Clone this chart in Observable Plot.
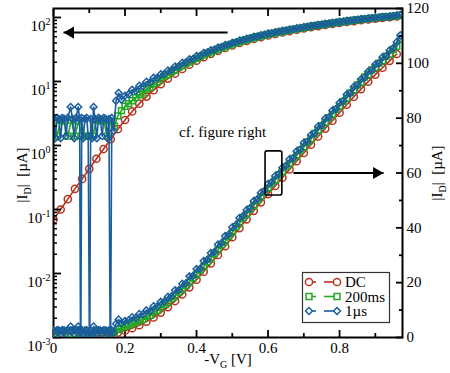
<!DOCTYPE html>
<html><head><meta charset="utf-8">
<script src="https://cdn.jsdelivr.net/npm/d3@7"></script>
<script src="https://cdn.jsdelivr.net/npm/@observablehq/plot@0.6"></script>
<style>
html,body{margin:0;padding:0;background:#fff;}
#wrap{position:relative;width:450px;height:373px;overflow:hidden;}
#wrap svg{position:absolute;left:0;top:0;}
</style></head><body><div id="wrap"></div>
<script>
// ---- data: gate voltage -V_G [V] and drain current |I_D| [µA] ----
const dcV = [0,0.02,0.04,0.06,0.08,0.10,0.12,0.14,0.16,0.18,0.20,0.22,0.24,0.26,0.28,0.30,0.32,0.34,0.36,0.38,0.40,0.42,0.44,0.46,0.48,0.50,0.52,0.54,0.56,0.58,0.60,0.62,0.64,0.66,0.68,0.70,0.72,0.74,0.76,0.78,0.80,0.82,0.84,0.86,0.88,0.90,0.92,0.94,0.96];
const dcI = [0.07,0.10,0.145,0.21,0.30,0.43,0.62,0.88,1.25,1.8,2.5,3.4,4.5,5.8,7.3,9.1,11.1,13.3,15.7,18.3,21.1,24.0,27.0,30.1,33.3,36.6,39.9,43.1,46.2,49.3,52.3,55.3,58.3,61.3,64.3,67.3,70.3,73.3,76.2,79.1,82.0,84.9,87.8,90.6,93.3,95.9,98.4,100.9,103.4];

const msV = [0.00,0.01,0.02,0.03,0.04,0.05,0.06,0.07,0.08,0.09,
             0.10,0.11,0.12,0.13,0.14,0.15,0.16,0.17,0.18,0.19,
             0.20,0.21,0.22,0.23,0.24,0.25,0.26,0.27,0.28,0.29,
             0.30,0.31,0.32,0.33,0.34,0.35,0.36,0.37,0.38,0.39,
             0.40,0.41,0.42,0.43,0.44,0.45,0.46,0.47,0.48,0.49,
             0.50,0.51,0.52,0.53,0.54,0.55,0.56,0.57,0.58,0.59,
             0.60,0.61,0.62,0.63,0.64,0.65,0.66,0.67,0.68,0.69,
             0.70,0.71,0.72,0.73,0.74,0.75,0.76,0.77,0.78,0.79,
             0.80,0.81,0.82,0.83,0.84,0.85,0.86,0.87,0.88,0.89,
             0.90,0.91,0.92,0.93,0.94,0.95,0.96,0.97];
const msI = [2.4,1.4,2.5,2.4,1.4,2.5,1.4,2.4,1.4,1.4,
             1.4,1.4,2.5,2.4,2.5,1.4,2.4,2.0,2.9,3.5,
             4.1,4.5,5.0,5.6,6.2,6.6,7.6,8.1,9.2,9.9,
             11.0,12.1,12.8,14.2,15.1,16.6,17.5,19.0,20.1,21.8,
             23.0,24.6,25.8,27.6,28.8,30.6,31.9,33.8,35.0,37.0,
             38.3,40.4,41.6,43.7,44.9,46.9,48.1,50.0,51.3,53.0,
             54.4,56.2,57.4,59.3,60.4,62.3,63.4,65.3,66.4,68.3,
             69.4,71.3,72.4,74.4,75.5,77.3,78.5,80.2,81.4,83.2,
             84.3,86.1,87.3,89.2,90.3,92.1,93.1,95.0,95.9,97.6,
             98.5,100.1,100.9,102.6,103.3,105.0,106.2,108.8];

const usV = [0.000,0.005,0.010,0.015,0.020,0.025,0.030,0.035,0.040,0.048,
             0.053,0.058,0.063,0.069,0.073,0.076,0.079,0.083,0.088,0.093,
             0.097,0.101,0.104,0.108,0.112,0.116,0.121,0.126,0.131,0.136,
             0.141,0.146,0.151,0.155,0.159,0.163,0.168,0.175,0.182,0.190,
             0.20,0.21,0.22,0.23,0.24,0.25,0.26,0.27,0.28,0.29,
             0.30,0.31,0.32,0.33,0.34,0.35,0.36,0.37,0.38,0.39,
             0.40,0.41,0.42,0.43,0.44,0.45,0.46,0.47,0.48,0.49,
             0.50,0.51,0.52,0.53,0.54,0.55,0.56,0.57,0.58,0.59,
             0.60,0.61,0.62,0.63,0.64,0.65,0.66,0.67,0.68,0.69,
             0.70,0.71,0.72,0.73,0.74,0.75,0.76,0.77,0.78,0.79,
             0.80,0.81,0.82,0.83,0.84,0.85,0.86,0.87,0.88,0.89,
             0.90,0.91,0.92,0.93,0.94,0.95,0.96,0.97];
const usI = [2.6,1.3,2.7,2.6,1.3,2.7,2.6,1.4,2.7,4.0,
             2.6,1.3,2.7,4.0,2.6,0.0002,2.7,1.3,2.6,2.7,
             1.4,0.0002,2.6,1.3,4.0,2.6,1.3,2.7,2.6,1.4,
             2.7,2.6,1.3,2.6,0.0002,2.7,1.7,5.0,6.6,5.2,
             6.0,6.3,7.4,7.1,8.6,8.4,9.9,9.6,11.4,11.3,
             13.0,13.1,14.9,15.0,17.2,17.2,19.6,19.7,22.3,22.4,
             25.0,25.1,27.9,28.4,30.8,31.2,33.9,34.5,37.0,37.6,
             40.2,41.0,43.6,44.3,46.5,47.2,49.8,50.4,52.8,53.5,
             56.0,56.6,58.9,59.6,61.9,62.6,65.0,65.4,67.9,68.6,
             71.0,71.4,73.9,74.5,77.0,77.3,79.9,80.3,82.8,83.3,
             85.6,86.3,88.6,89.1,91.5,92.0,94.2,94.8,97.0,97.4,
             99.6,100.0,102.2,102.6,104.8,105.6,107.8,110.2];

// ---- ticks ----
const xMajor = [0,0.2,0.4,0.6,0.8];
const xMinor = [0.1,0.3,0.5,0.7,0.9];
const logMajor = [1e-3,1e-2,1e-1,1,10,100];
const logMinor = [2e-3,3e-3,4e-3,5e-3,6e-3,7e-3,8e-3,9e-3,2e-2,3e-2,4e-2,5e-2,6e-2,7e-2,8e-2,9e-2,
                  0.2,0.3,0.4,0.5,0.6,0.7,0.8,0.9,2,3,4,5,6,7,8,9,20,30,40,50,60,70,80,90];
const linMajor = [0,20,40,60,80,100,120];
const linMinor = [10,30,50,70,90,110];

// ---- series / annotations ----
const seriesNames = ["DC","200ms","1µs"];
const arrowsLog = [{x1:0.487, x2:0.028, y:58}];
const arrowsLin = [{x1:0.671, x2:0.923, y:60}];
const boxes = [{x1:0.593, x2:0.640, y1:51.8, y2:67.9}];
const notes = [{x:0.473, y:74.8, text:"cf. figure right"}];

const W=450, H=373, mL=53, mR=48, mT=8, mB=36;
const xDom=[0,0.976];
const font="Liberation Serif, 'Times New Roman', serif";
const red="#b7321f", green="#22a822", blue="#1a5d9d";

const dc = dcV.map((v,i)=>({v, i:dcI[i]}));
const ms = msV.map((v,i)=>({v, i:msI[i]}));
const us = usV.map((v,i)=>({v, i:usI[i]}));

const styles = [
  {data:dc, color:red, symbol:"circle", r:3.6},
  {data:ms, color:green, symbol:"square", r:3.3},
  {data:us, color:blue, symbol:"diamond2", r:3.1}
];

function seriesMarks(){
  const m=[];
  for (const s of styles){
    m.push(Plot.line(s.data,{x:"v",y:"i",stroke:s.color,strokeWidth:1.6,clip:true}));
    m.push(Plot.dot(s.data,{x:"v",y:"i",stroke:s.color,symbol:s.symbol,r:s.r,strokeWidth:1.5,fill:"none",clip:true}));
  }
  return m;
}
const common = {width:W,height:H,marginLeft:mL,marginRight:mR,marginTop:mT,marginBottom:mB};

const p1 = Plot.plot({
  ...common,
  style:{fontFamily:font,fontSize:"15px",background:"white",color:"black"},
  x:{domain:xDom},
  y:{type:"log",domain:[1e-3,138]},
  marks:[
    ...seriesMarks(),
    Plot.link(arrowsLog,{x1:"x1",x2:"x2",y1:"y",y2:"y",stroke:"black",strokeWidth:2}),
    Plot.dot(arrowsLog,{x:"x2",y:"y",symbol:"triangle",rotate:-90,r:4.5,fill:"black",stroke:"none",dx:7}),
    Plot.axisX(xMajor,{anchor:"bottom",tickSize:-7,tickPadding:12,strokeWidth:1.8,label:null,tickFormat:d=>d===0?"0":d3.format(".1f")(d)}),
    Plot.axisX(xMinor,{anchor:"bottom",tickSize:-4,tickFormat:()=>"",label:null,strokeWidth:1.8}),
    Plot.axisX(xMajor,{anchor:"top",tickSize:-7,tickFormat:()=>"",label:null,strokeWidth:1.8}),
    Plot.axisX(xMinor,{anchor:"top",tickSize:-4,tickFormat:()=>"",label:null,strokeWidth:1.8}),
    Plot.axisY(logMajor,{anchor:"left",tickSize:-8,tickPadding:11,strokeWidth:1.8,label:null,tickFormat:d=>"10^"+Math.round(Math.log10(d))}),
    Plot.axisY(logMinor,{anchor:"left",tickSize:-4,tickFormat:()=>"",label:null,strokeWidth:1.5}),
    Plot.frame({stroke:"black",strokeWidth:2})
  ]
});

const p2 = Plot.plot({
  ...common,
  style:{fontFamily:font,fontSize:"15px",background:"transparent",color:"black"},
  x:{domain:xDom,axis:null},
  y:{domain:[0,120]},
  marks:[
    ...seriesMarks(),
    Plot.rect(boxes,{x1:"x1",x2:"x2",y1:"y1",y2:"y2",stroke:"black",strokeWidth:1.6,fill:"none",rx:2}),
    Plot.link(arrowsLin,{x1:"x1",x2:"x2",y1:"y",y2:"y",stroke:"black",strokeWidth:2}),
    Plot.dot(arrowsLin,{x:"x2",y:"y",symbol:"triangle",rotate:90,r:4.5,fill:"black",stroke:"none",dx:-7}),
    Plot.text(notes,{x:"x",y:"y",text:"text",fontSize:15}),
    Plot.axisY(linMajor,{anchor:"right",tickSize:-7,tickPadding:11,strokeWidth:1.8,label:null}),
    Plot.axisY(linMinor,{anchor:"right",tickSize:-4,tickFormat:()=>"",label:null,strokeWidth:1.8})
  ]
});

const wrap = document.getElementById("wrap");
wrap.appendChild(p1);
wrap.appendChild(p2);

// superscript exponents on the log axis
d3.select(p1).selectAll('g[aria-label="y-axis tick label"] text').each(function(){
  const t=this.textContent;
  if (!t || t.indexOf("^")<0) return;
  const e=t.split("^")[1];
  const s=d3.select(this); s.text("10").attr("dy","0.55em");
  s.append("tspan").attr("dy","-0.55em").attr("font-size",10).text(e);
});

// axis titles
const ov = d3.select(p2).append("g").attr("font-family",font).attr("font-size",15).attr("fill","black");
function ylabel(x,y){
  const t=ov.append("text").attr("transform",`translate(${x},${y}) rotate(-90)`).attr("text-anchor","middle");
  t.append("tspan").text("|I");
  t.append("tspan").attr("dy",4).attr("font-size",10).text("D");
  t.append("tspan").attr("dy",-4).text("|  [µA]");
}
ylabel(27,175);
ylabel(442,173);
const xl=ov.append("text").attr("x",228).attr("y",364).attr("text-anchor","middle");
xl.append("tspan").text("-V");
xl.append("tspan").attr("dy",4).attr("font-size",10).text("G");
xl.append("tspan").attr("dy",-4).text(" [V]");

// legend
const lg = d3.select(p2).append("g").attr("font-family",font).attr("font-size",15).attr("text-anchor","start");
lg.append("rect").attr("x",302.5).attr("y",272.5).attr("width",87).attr("height",50)
  .attr("fill","white").attr("stroke","#333").attr("stroke-width",1.2);
const symMap={circle:d3.symbolCircle,square:d3.symbolSquare,diamond2:d3.symbolDiamond2};
styles.forEach((s,k)=>{
  const y=282+k*14.5;
  lg.append("line").attr("x1",309).attr("x2",316).attr("y1",y).attr("y2",y).attr("stroke",s.color).attr("stroke-width",1.6);
  lg.append("line").attr("x1",324).attr("x2",337).attr("y1",y).attr("y2",y).attr("stroke",s.color).attr("stroke-width",1.6);
  const p=d3.symbol(symMap[s.symbol],Math.PI*s.r*s.r)();
  [309,337].forEach(x=>lg.append("path").attr("d",p).attr("transform",`translate(${x},${y})`)
    .attr("fill","white").attr("stroke",s.color).attr("stroke-width",1.5));
  lg.append("text").attr("x",345).attr("y",y+5).attr("text-anchor","start").text(seriesNames[k]);
});
</script>
</body></html>
